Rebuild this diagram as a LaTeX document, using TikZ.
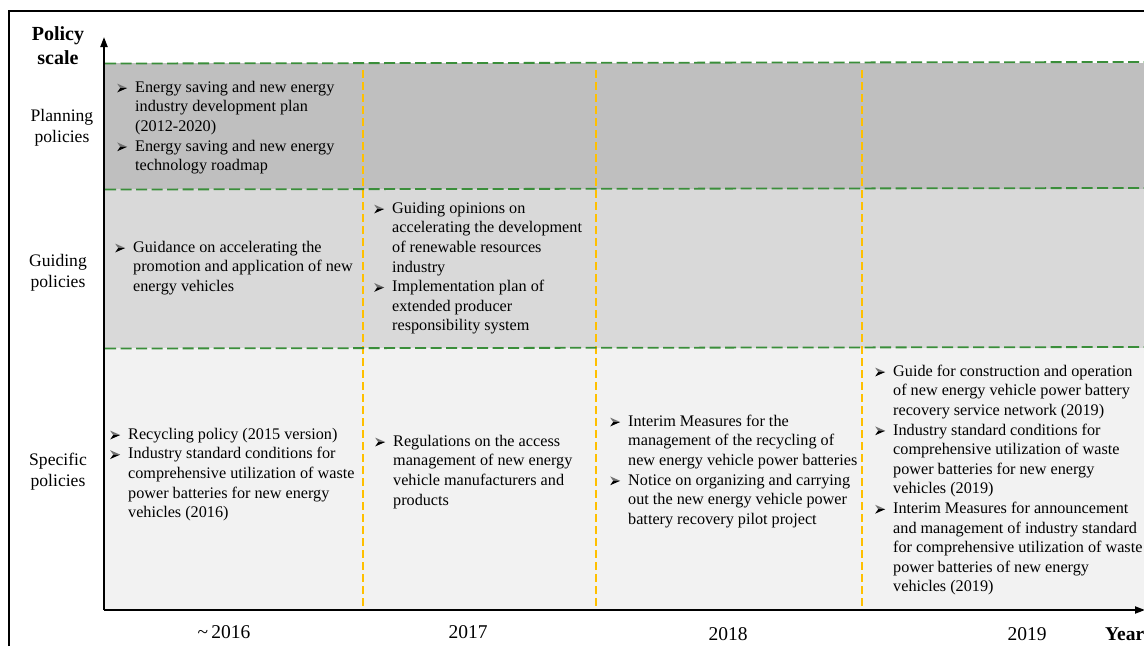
\documentclass[tikz,border=0pt]{standalone}
\usepackage{fontspec}
\setmainfont{Liberation Serif}
\usetikzlibrary{arrows.meta}
\definecolor{planfill}{HTML}{BFBFBF}
\definecolor{guidefill}{HTML}{D9D9D9}
\definecolor{specfill}{HTML}{F2F2F2}
\definecolor{greenline}{HTML}{3A8E3A}
\definecolor{yellowline}{HTML}{FFC000}
\newcommand\bl{\makebox[18pt][l]{\tikz[x=1pt,y=1pt,baseline=0pt]{\fill[black!55] (0,8.6)--(10,4.2)--(3,4.2)--cycle; \fill[black] (0,-0.2)--(10,4.2)--(3,4.2)--cycle;}}}
\newcommand\ct{\hspace*{18pt}}
\begin{document}
\begin{tikzpicture}[x=1pt,y=-1pt,
  greendash/.style={draw=greenline,line width=1.8pt,dash pattern=on 11pt off 4.5pt},
  yellowdash/.style={draw=yellowline,line width=1.5pt,dash pattern=on 8pt off 4pt},
  axisline/.style={draw=black,line width=2pt,-{Triangle[length=10pt,width=7pt]}},
  block/.style={anchor=north west,inner sep=0pt,align=left,font=\fontsize{16.2}{19.6}\selectfont},
  rowlabel/.style={inner sep=0pt,align=center,font=\fontsize{17.6}{21}\selectfont},
  yearlabel/.style={inner sep=0pt,anchor=base,font=\fontsize{19.5}{22}\selectfont}]
\useasboundingbox (0,0) rectangle (1144,646);
\fill[white] (0,0) rectangle (1144,646);
% outer frame
\draw[black,line width=1.2pt] (9,646) -- (9,11) -- (1146,11);
% bands
\fill[planfill] (104,63) rectangle (1146,189);
\fill[guidefill] (104,189) rectangle (1146,348);
\fill[specfill] (104,348) rectangle (1146,610);
% yellow year separators
\draw[yellowdash] (363,70) -- (363,610);
\draw[yellowdash] (596,70) -- (596,610);
\draw[yellowdash] (862,70) -- (862,610);
% green band separators
\draw[greendash] (105,63.5) -- (1146,62);
\draw[greendash] (105,189.5) -- (1146,188);
\draw[greendash] (105,348.5) -- (1146,347);
% axes
\coordinate (origin) at (104,610);
\coordinate (ytip) at (104,37);
\coordinate (xtip) at (1145,610);
\draw[axisline] (origin) -- (ytip);
\draw[axisline] (origin) -- (xtip);
% axis titles
\node[rowlabel,font=\bfseries\fontsize{20}{24}\selectfont] (ptitle) at (58,47.5) {\strut Policy\\\strut scale};
\node[rowlabel] (lplan) at (62,127.5) {\strut Planning\\\strut policies};
\node[rowlabel] (lguide) at (58,272.5) {\strut Guiding\\\strut policies};
\node[rowlabel] (lspec) at (58,472) {\strut Specific\\\strut policies};
% years
\node[yearlabel] (y2016) at (224,638.5) {\textasciitilde\,2016};
\node[yearlabel] (y2017) at (468,638.5) {2017};
\node[yearlabel] (y2018) at (728,640) {2018};
\node[yearlabel] (y2019) at (1027,640) {2019};
\node[yearlabel,anchor=base west,font=\bfseries\fontsize{19.5}{22}\selectfont] (yyear) at (1105,640) {Year};
% planning
\node[block] (plan) at (117,78.3) {\strut\bl Energy saving and new energy\\
\ct industry development plan\\
\ct (2012-2020)\\
\bl Energy saving and new energy\\
\ct technology roadmap};
% guiding
\node[block] (guideA) at (115,238.3) {\strut\bl Guidance on accelerating the\\
\ct promotion and application of new\\
\ct energy vehicles};
\node[block] (guideB) at (374,199.3) {\strut\bl Guiding opinions on\\
\ct accelerating the development\\
\ct of renewable resources\\
\ct industry\\
\bl Implementation plan of\\
\ct extended producer\\
\ct responsibility system};
% specific
\node[block] (specA) at (110,425.3) {\strut\bl Recycling policy (2015 version)\\
\bl Industry standard conditions for\\
\ct comprehensive utilization of waste\\
\ct power batteries for new energy\\
\ct vehicles (2016)};
\node[block] (specB) at (375,432.3) {\strut\bl Regulations on the access\\
\ct management of new energy\\
\ct vehicle manufacturers and\\
\ct products};
\node[block] (specC) at (610,412.3) {\strut\bl Interim Measures for the\\
\ct management of the recycling of\\
\ct new energy vehicle power batteries\\
\bl Notice on organizing and carrying\\
\ct out the new energy vehicle power\\
\ct battery recovery pilot project};
\node[block] (specD) at (875,362.3) {\strut\bl Guide for construction and operation\\
\ct of new energy vehicle power battery\\
\ct recovery service network (2019)\\
\bl Industry standard conditions for\\
\ct comprehensive utilization of waste\\
\ct power batteries for new energy\\
\ct vehicles (2019)\\
\bl Interim Measures for announcement\\
\ct and management of industry standard\\
\ct for comprehensive utilization of waste\\
\ct power batteries of new energy\\
\ct vehicles (2019)};
\end{tikzpicture}
\end{document}
